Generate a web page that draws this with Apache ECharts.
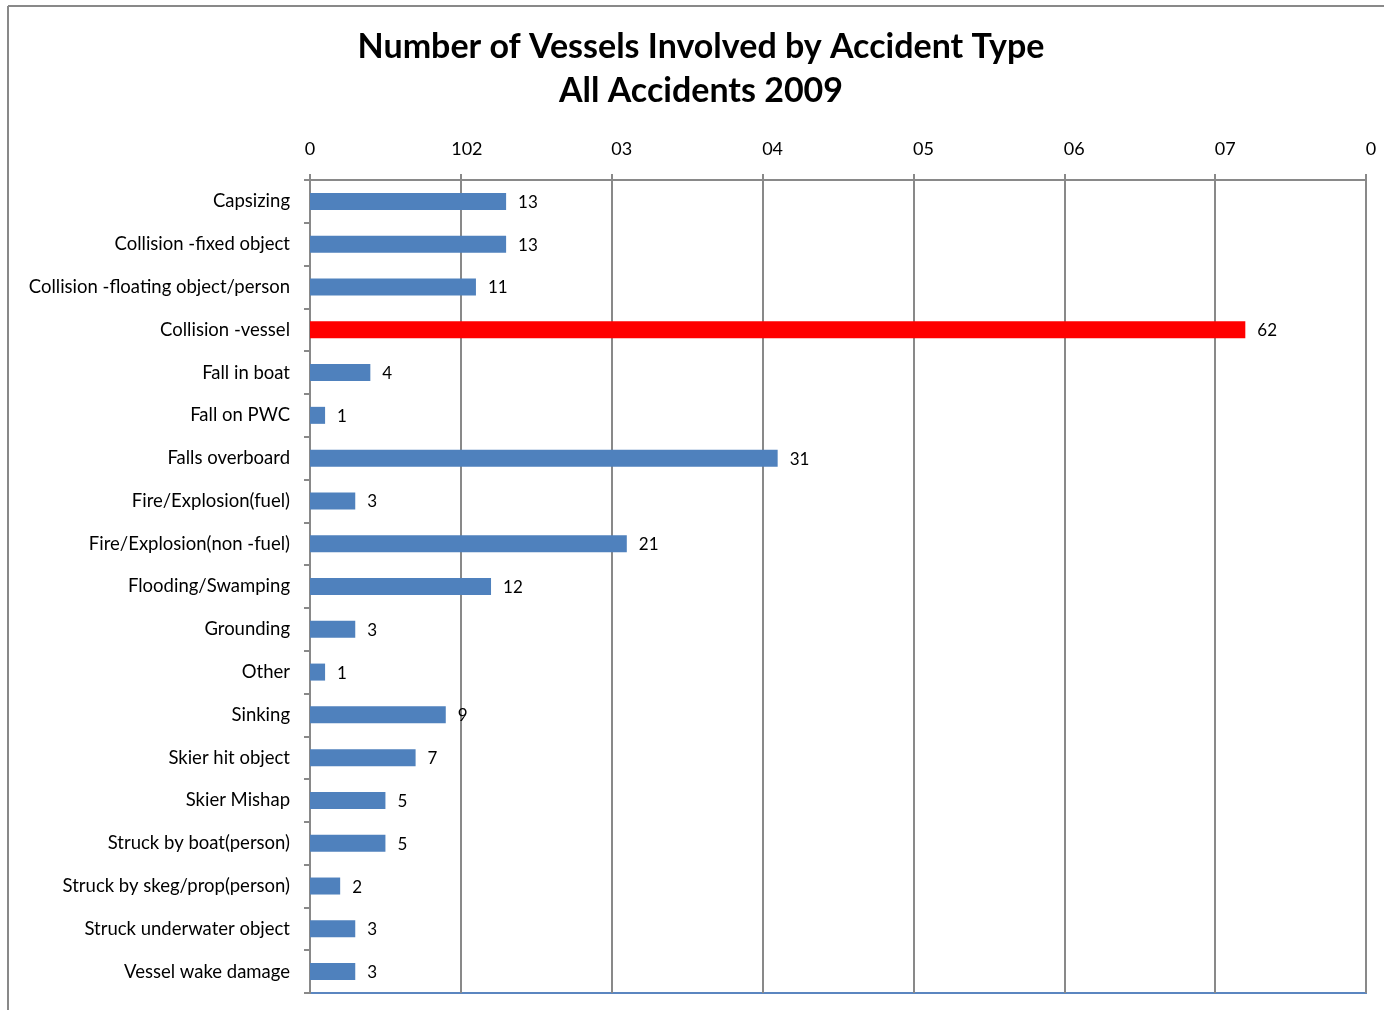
<!DOCTYPE html>
<html>
<head>
<meta charset="utf-8">
<script src="https://cdn.jsdelivr.net/npm/echarts@6/dist/echarts.min.js"></script>
<style>html,body{margin:0;padding:0;background:#fff}#c{width:1384px;height:1010px}</style>
</head>
<body>
<div id="c"></div>
<script>
const titleLines = ["Number of Vessels Involved by Accident Type", "All Accidents 2009"];
const categories = ["Capsizing", "Collision -fixed object", "Collision -floating object/person", "Collision -vessel", "Fall in boat", "Fall on PWC", "Falls overboard", "Fire/Explosion(fuel)", "Fire/Explosion(non -fuel)", "Flooding/Swamping", "Grounding", "Other", "Sinking", "Skier hit object", "Skier Mishap", "Struck by boat(person)", "Struck by skeg/prop(person)", "Struck underwater object", "Vessel wake damage"];
const values = [13, 13, 11, 62, 4, 1, 31, 3, 21, 12, 3, 1, 9, 7, 5, 5, 2, 3, 3];
const highlighted = ["Collision -vessel"];
const tickLabels = ["0", "102", "03", "04", "05", "06", "07", "0"];
const tickStyles = ["t0", "t3", "t2", "t2", "t2", "t2", "t2", "t1"];

const FONT = 'Lato';
const chart = echarts.init(document.getElementById('c'), null, {renderer: 'canvas'});
const data = values.map((v, i) => ({
  value: v,
  itemStyle: {color: highlighted.includes(categories[i]) ? '#FF0000' : '#4F81BD'}
}));
chart.setOption({
  animation: false,
  backgroundColor: '#fff',
  title: {
    text: titleLines.join('\n'),
    left: 701, top: 20, textAlign: 'center', padding: [5, 0, 5, 0],
    textStyle: {fontFamily: FONT, fontWeight: 'bold', fontSize: 34, lineHeight: 44, color: '#000'}
  },
  graphic: [
    {type: 'line', shape: {x1: 8, y1: 6, x2: 1384, y2: 6}, style: {stroke: '#898989', lineWidth: 2}},
    {type: 'line', shape: {x1: 8, y1: 6, x2: 8, y2: 1010}, style: {stroke: '#898989', lineWidth: 2}}
  ],
  grid: {left: 310, right: 18, top: 180, bottom: 17, show: true, borderColor: '#5B86C0', borderWidth: 2, containLabel: false},
  xAxis: {
    type: 'value', position: 'top', min: 0, max: 70, interval: 10,
    axisLine: {show: true, lineStyle: {color: '#898989', width: 2}},
    axisTick: {show: true, inside: false, length: 6, lineStyle: {color: '#898989', width: 2}},
    splitLine: {show: true, lineStyle: {color: '#898989', width: 2}},
    axisLabel: {
      margin: 22, fontFamily: FONT, fontSize: 18, color: '#000',
      formatter: (v, i) => '{' + tickStyles[i] + '|' + tickLabels[i] + '}',
      rich: {
        t0: {fontFamily: FONT, fontSize: 18, color: '#000'},
        t1: {fontFamily: FONT, fontSize: 18, color: '#000', padding: [0, 0, 0, 10]},
        t2: {fontFamily: FONT, fontSize: 18, color: '#000', padding: [0, 0, 0, 20]},
        t3: {fontFamily: FONT, fontSize: 18, color: '#000', padding: [0, 0, 0, 12]}
      }
    }
  },
  yAxis: {
    type: 'category', inverse: true, data: categories,
    axisLine: {show: true, lineStyle: {color: '#898989', width: 2}},
    axisTick: {show: true, inside: false, length: 6, lineStyle: {color: '#898989', width: 2}},
    axisLabel: {margin: 20, fontFamily: FONT, fontSize: 18.5, color: '#000'}
  },
  series: [{
    type: 'bar', data: data, barWidth: 17,
    label: {show: true, position: 'right', distance: 12, offset: [0, 1], fontFamily: FONT, fontSize: 17, color: '#000'}
  }]
});
</script>
</body>
</html>
